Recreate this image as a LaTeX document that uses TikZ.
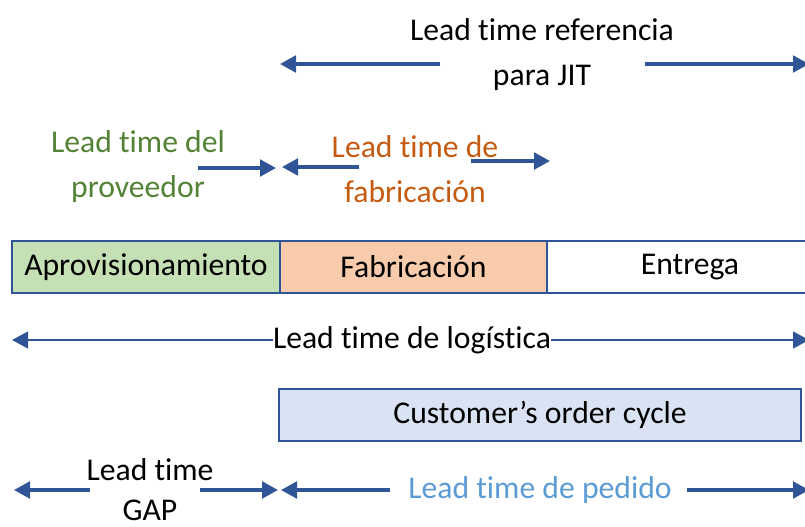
\documentclass[tikz,border=0pt]{standalone}
\usepackage{fontspec}
\setmainfont{Carlito}[Ligatures=NoCommon]
\usetikzlibrary{arrows.meta}
\definecolor{lineblue}{RGB}{47,85,151}
\definecolor{txtgreen}{RGB}{84,130,53}
\definecolor{txtorange}{RGB}{197,90,17}
\definecolor{txtblue}{RGB}{91,155,213}
\definecolor{fillgreen}{RGB}{197,224,180}
\definecolor{fillorange}{RGB}{248,203,173}
\definecolor{fillblue}{RGB}{218,227,243}
\begin{document}
\begin{tikzpicture}[x=0.75pt,y=-0.75pt,
  font=\fontsize{23.75}{33.75}\selectfont,
  arr/.style={draw=lineblue, line width=2.4pt, -{Triangle[length=12pt,width=12.5pt]}},
  thinarr/.style={arr, line width=1.8pt},
  stage/.style={draw=lineblue, line width=1.9pt, minimum height=39pt, inner sep=0pt},
  lbl/.style={align=center, inner sep=0pt}]
\clip (0,0) rectangle (805,526);
% top label
\node[lbl] (jit) at (542,55) {Lead time referencia\\para JIT};
\coordinate (jitL) at (280,64);
\coordinate (jitR) at (809,64);
\coordinate (jitLs) at (440,64);
\coordinate (jitRs) at (645,64);
\draw[arr] (jitLs) -- (jitL);
\draw[arr] (jitRs) -- (jitR);
% supplier
\node[lbl, text=txtgreen] (prov) at (138,167) {Lead time del\\proveedor};
\coordinate (provS) at (198,168);
\coordinate (provT) at (276,168);
\draw[arr] (provS) -- (provT);
% fabrication
\node[lbl, text=txtorange] (fab) at (415,169) {Lead time de\\fabricación};
\coordinate (fabLs) at (359,167);
\coordinate (fabL) at (282,167);
\coordinate (fabRs) at (471,161);
\coordinate (fabR) at (550,161);
\draw[arr] (fabLs) -- (fabL);
\draw[arr] (fabRs) -- (fabR);
% stages
\node[stage, fill=fillgreen, minimum width=201pt] (apr) at (146,267) {Aprovisionamiento};
\node[stage, fill=fillorange, minimum width=200.25pt] (fabr) at (413.5,267) {Fabricación};
\node[stage, fill=white, minimum width=214.5pt] (ent) at (690,267) {Entrega};
% logistics
\node[inner sep=0pt] (log) at (412,340) {Lead time de logística};
\coordinate (logL) at (12,340);
\coordinate (logR) at (809,340);
\draw[thinarr] (log.west |- logL) -- (logL);
\draw[thinarr] (log.east |- logR) -- (logR);
% customer's order cycle
\node[stage, fill=fillblue, minimum width=391.5pt] (coc) at (540,415) {Customer’s order cycle};
% GAP
\node[lbl, font=\fontsize{23.75}{30}\selectfont] (gap) at (150,490) {Lead time\\GAP};
\coordinate (gapLs) at (90,490);
\coordinate (gapL) at (14,490);
\coordinate (gapRs) at (200,490);
\coordinate (gapR) at (278,490);
\draw[arr] (gapLs) -- (gapL);
\draw[arr] (gapRs) -- (gapR);
% pedido
\node[inner sep=0pt, text=txtblue] (ped) at (540,490) {Lead time de pedido};
\coordinate (pedLs) at (390,490);
\coordinate (pedL) at (281,490);
\coordinate (pedRs) at (687,490);
\coordinate (pedR) at (809,490);
\draw[arr] (pedLs) -- (pedL);
\draw[arr] (pedRs) -- (pedR);
\end{tikzpicture}
\end{document}
